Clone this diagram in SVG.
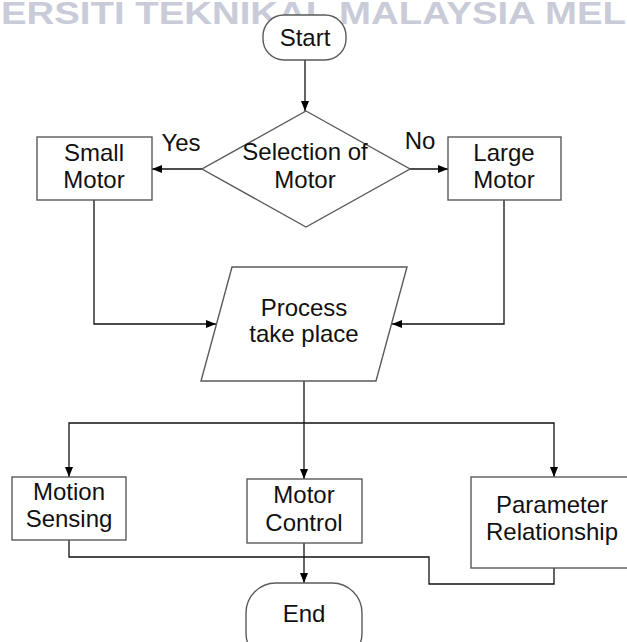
<svg xmlns="http://www.w3.org/2000/svg" width="627" height="642" viewBox="0 0 627 642">
  <defs>
    <marker id="arrow" markerUnits="userSpaceOnUse" markerWidth="10" markerHeight="8" refX="10" refY="4" orient="auto">
      <path d="M0,0 L10,4 L0,8 z" fill="#000"/>
    </marker>
    <style>
      .shape { fill: #fff; stroke: #5a5a5a; stroke-width: 1.4; }
      .lbl { font-family: "Liberation Sans", Arial, sans-serif; font-size: 24px; fill: #111; text-anchor: middle; }
      .conn { fill: none; stroke: #111; stroke-width: 1.3; }
      .arr { marker-end: url(#arrow); }
      .wm { font-family: "Liberation Sans", Arial, sans-serif; font-size: 32px; font-weight: bold; fill: #c9ccd8; }
    </style>
  </defs>
  <rect width="627" height="642" fill="#fff"/>
  <text class="wm" x="1" y="24" textLength="625" lengthAdjust="spacingAndGlyphs">ERSITI TEKNIKAL MALAYSIA MEL</text>

  <g id="connectors">
    <path class="conn arr" d="M305,60 V111"/>
    <path class="conn arr" d="M202,169 H152"/>
    <path class="conn arr" d="M410,169 H448"/>
    <path class="conn arr" d="M94,200 V324 H216"/>
    <path class="conn arr" d="M504,200 V324 H392"/>
    <path class="conn arr" d="M304,381 V479"/>
    <path class="conn arr" d="M304,423 H69 V477"/>
    <path class="conn arr" d="M304,423 H554 V477"/>
    <path class="conn" d="M69,540 V557 H304"/>
    <path class="conn" d="M554,568 V584 H429 V557 H304"/>
    <path class="conn arr" d="M304,543 V583"/>
    <text class="lbl" x="181" y="151">Yes</text>
    <text class="lbl" x="420" y="149">No</text>
  </g>

  <g id="start">
    <rect class="shape" x="263" y="15" width="83" height="45" rx="21" ry="21"/>
    <text class="lbl" x="305" y="46">Start</text>
  </g>

  <g id="selection">
    <polygon class="shape" points="306,111 410,169 306,227 202,169"/>
    <text class="lbl" x="305" y="160">Selection of</text>
    <text class="lbl" x="305" y="188">Motor</text>
  </g>

  <g id="small-motor">
    <rect class="shape" x="37" y="137" width="115" height="63"/>
    <text class="lbl" x="94" y="161">Small</text>
    <text class="lbl" x="94" y="188">Motor</text>
  </g>

  <g id="large-motor">
    <rect class="shape" x="448" y="137" width="113" height="63"/>
    <text class="lbl" x="504" y="161">Large</text>
    <text class="lbl" x="504" y="188">Motor</text>
  </g>

  <g id="process">
    <polygon class="shape" points="232,267 407,267 376,381 201,381"/>
    <text class="lbl" x="304" y="316">Process</text>
    <text class="lbl" x="304" y="342">take place</text>
  </g>

  <g id="motion-sensing">
    <rect class="shape" x="12" y="477" width="114" height="63"/>
    <text class="lbl" x="69" y="500">Motion</text>
    <text class="lbl" x="69" y="527">Sensing</text>
  </g>

  <g id="motor-control">
    <rect class="shape" x="247" y="479" width="115" height="64"/>
    <text class="lbl" x="304" y="503">Motor</text>
    <text class="lbl" x="304" y="531">Control</text>
  </g>

  <g id="parameter-relationship">
    <rect class="shape" x="471" y="477" width="160" height="91"/>
    <text class="lbl" x="552" y="513">Parameter</text>
    <text class="lbl" x="552" y="540">Relationship</text>
  </g>

  <g id="end">
    <rect class="shape" x="246" y="583" width="116" height="80" rx="30" ry="30"/>
    <text class="lbl" x="304" y="622">End</text>
  </g>
</svg>
